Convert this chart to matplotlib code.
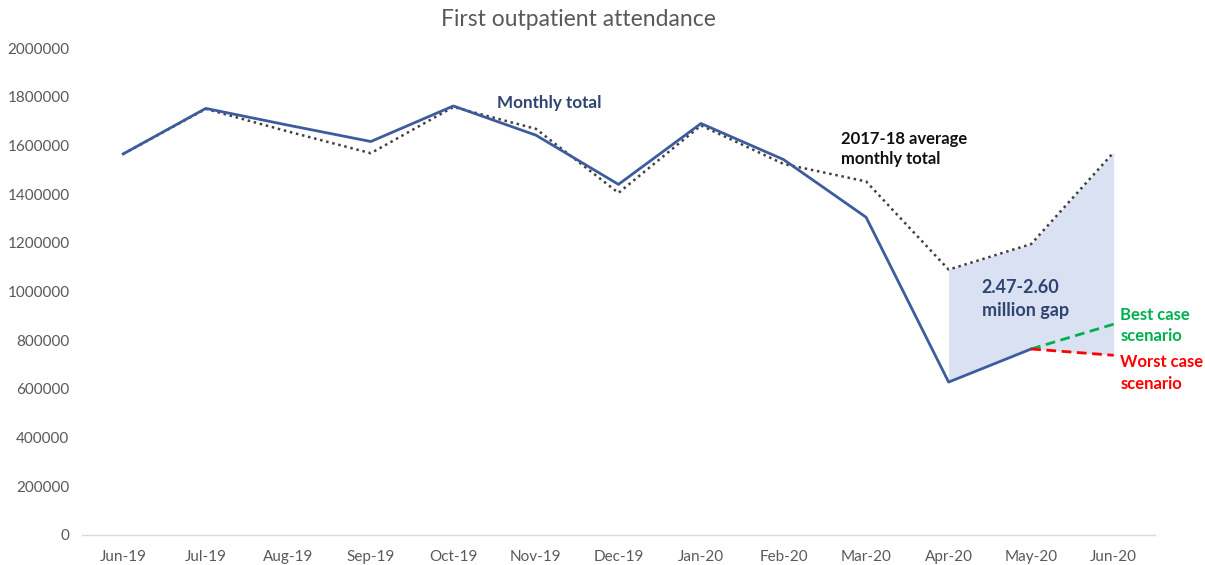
import matplotlib
matplotlib.use("Agg")
import matplotlib.pyplot as plt
import numpy as np

months = ["Jun-19", "Jul-19", "Aug-19", "Sep-19", "Oct-19", "Nov-19", "Dec-19",
          "Jan-20", "Feb-20", "Mar-20", "Apr-20", "May-20", "Jun-20"]
monthly_total = [1565000, 1752000, 1683000, 1616000, 1762000, 1642000, 1440000,
                 1690000, 1542000, 1305000, 628000, 764000]
avg_2017_18 = [1565000, 1750000, 1657000, 1568000, 1758000, 1668000, 1405000,
               1682000, 1524000, 1452000, 1090000, 1195000, 1572000]
best_case = [764000, 866000]     # May-20 -> Jun-20
worst_case = [764000, 738000]    # May-20 -> Jun-20
yticks = [0, 200000, 400000, 600000, 800000, 1000000, 1200000, 1400000,
          1600000, 1800000, 2000000]

plt.rcParams['font.family'] = ['Lato', 'DejaVu Sans']

fig = plt.figure(figsize=(12.05, 5.65), dpi=100)
ax = fig.add_axes([0.068, 0.0531, 0.8905, 0.8619])

x = np.arange(len(months))
nt = len(monthly_total)

# shaded gap area (Apr-20 to Jun-20)
xs = x[10:13]
lower = [monthly_total[10], monthly_total[11], worst_case[1]]
upper = avg_2017_18[10:13]
ax.fill_between(xs, lower, upper, color='#D9E1F2', linewidth=0, zorder=1)

ax.plot(x, avg_2017_18, color='#404040', linestyle=(0, (1, 1.5)), linewidth=1.8, zorder=2)
ax.plot(x[:nt], monthly_total, color='#3D5C9E', linewidth=2.0, zorder=3)
ax.plot(x[11:13], best_case, color='#00B050', linestyle=(0, (3.5, 2)), linewidth=2.0, zorder=3)
ax.plot(x[11:13], worst_case, color='#FF0000', linestyle=(0, (3.5, 2)), linewidth=2.0, zorder=3)

ax.set_xlim(-0.5, 12.5)
ax.set_ylim(0, 2000000)
ax.set_xticks(x)
ax.set_xticklabels(months)
ax.set_yticks(yticks)
ax.set_yticklabels([str(v) for v in yticks])
ax.tick_params(axis='both', length=0, labelsize=11, colors='#595959')
ax.tick_params(axis='x', pad=11)
ax.tick_params(axis='y', pad=9)
for s in ['top', 'right', 'left']:
    ax.spines[s].set_visible(False)
ax.spines['bottom'].set_color('#D9D9D9')
ax.spines['bottom'].set_linewidth(1.0)

fig.text(0.48, 0.965, "First outpatient attendance", ha='center', va='center',
         fontsize=16.5, color='#595959')

ax.text(4.53, 1775000, "Monthly total", fontsize=12.3, fontweight='bold',
        color='#2F4470', ha='left', va='center')
ax.text(8.7, 1585000, "2017-18 average\nmonthly total", fontsize=12, fontweight='bold',
        color='#111111', ha='left', va='center', linespacing=1.35)
ax.text(10.4, 970000, "2.47-2.60\nmillion gap", fontsize=13, fontweight='bold',
        color='#2F4470', ha='left', va='center', linespacing=1.45)
ax.text(12.08, 860000, "Best case\nscenario", fontsize=12, fontweight='bold',
        color='#00B050', ha='left', va='center', linespacing=1.35)
ax.text(12.08, 665000, "Worst case\nscenario", fontsize=12, fontweight='bold',
        color='#FF0000', ha='left', va='center', linespacing=1.45)

fig.savefig("out.png", dpi=100)
